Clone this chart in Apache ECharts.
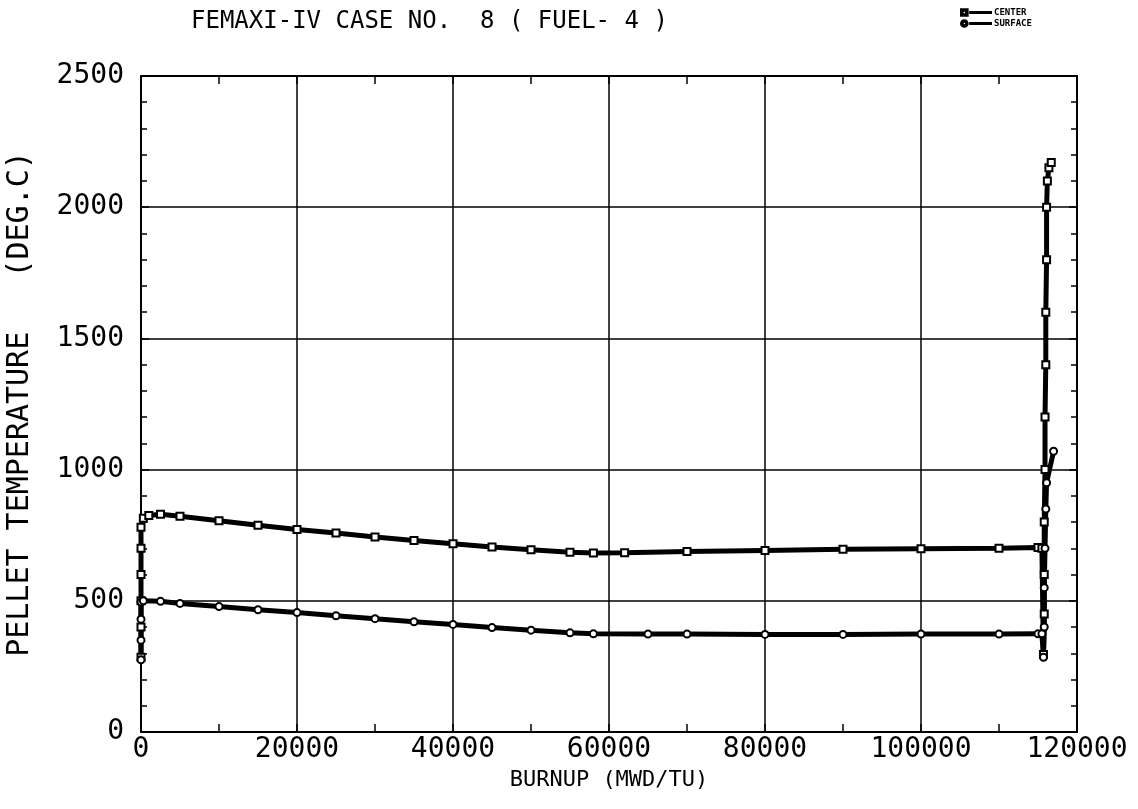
<!DOCTYPE html>
<html>
<head>
<meta charset="utf-8">
<script src="https://cdn.jsdelivr.net/npm/echarts@6/dist/echarts.min.js"></script>
<style>
html,body{margin:0;padding:0;background:#fff;}
#chart{width:1138px;height:809px;}
</style>
</head>
<body>
<div id="chart"></div>
<script>
// Burnup (MWD/TU) vs pellet temperature (DEG.C)
const titleText = 'FEMAXI-IV CASE NO.  8 ( FUEL- 4 )';
const xTicks = [0, 20000, 40000, 60000, 80000, 100000, 120000];
const yTicks = [0, 500, 1000, 1500, 2000, 2500];

const centerBurnup = [0, 0, 0, 0, 0, 0, 300, 1000, 2500, 5000, 10000, 15000, 20000, 25000, 30000, 35000, 40000, 45000, 50000, 55000, 58000, 62000, 70000, 80000, 90000, 100000, 110000, 115000, 115500, 115700, 115800, 115800, 115800, 115900, 115900, 116000, 116000, 116100, 116100, 116200, 116400, 116700];
const centerTemp   = [285, 400, 500, 600, 700, 780, 815, 825, 830, 822, 805, 788, 772, 758, 743, 730, 717, 705, 695, 685, 682, 683, 688, 692, 696, 698, 700, 703, 700, 295, 450, 600, 800, 1000, 1200, 1400, 1600, 1800, 2000, 2100, 2150, 2170];

const surfaceBurnup = [0, 0, 0, 0, 300, 2500, 5000, 10000, 15000, 20000, 25000, 30000, 35000, 40000, 45000, 50000, 55000, 58000, 65000, 70000, 80000, 90000, 100000, 110000, 115000, 115500, 115700, 115800, 115800, 115900, 116000, 116100, 117000];
const surfaceTemp   = [275, 350, 430, 495, 500, 498, 490, 478, 466, 455, 443, 432, 420, 410, 398, 388, 378, 374, 373, 373, 372, 372, 373, 373, 374, 374, 285, 400, 550, 700, 850, 950, 1070];

const centerData = centerBurnup.map((b, i) => [b, centerTemp[i]]);
const surfaceData = surfaceBurnup.map((b, i) => [b, surfaceTemp[i]]);

const FONT = 'DejaVu Sans Mono';
const chart = echarts.init(document.getElementById('chart'), null, {renderer: 'canvas'});

const squareIcon = 'path://M0 0L8 0L8 8L0 8Z M2 2L2 6L6 6L6 2Z M11 3.4L36 3.4L36 4.6L11 4.6Z';
const circleIcon = 'path://M0 4A4 4 0 1 1 8 4A4 4 0 1 1 0 4Z M2 4A2 2 0 1 0 6 4A2 2 0 1 0 2 4Z M11 3.4L36 3.4L36 4.6L11 4.6Z';

const yBase = {
  type: 'value', min: 0, max: 2500, interval: 500,
  axisLine: {show: true, onZero: false, lineStyle: {color: '#000', width: 2}},
  axisTick: {show: true, inside: true, length: 8, lineStyle: {color: '#000', width: 1.5}},
  minorTick: {show: true, splitNumber: 5, length: 6, lineStyle: {color: '#000', width: 1.5}},
  splitLine: {show: true, lineStyle: {color: '#000', width: 1.5}}
};
const xBase = {
  type: 'value', min: 0, max: 120000, interval: 20000,
  axisLine: {show: true, onZero: false, lineStyle: {color: '#000', width: 2}},
  axisTick: {show: true, inside: true, length: 8, lineStyle: {color: '#000', width: 1.5}},
  minorTick: {show: true, splitNumber: 2, length: 8, lineStyle: {color: '#000', width: 1.5}},
  splitLine: {show: true, lineStyle: {color: '#000', width: 1.5}}
};

chart.setOption({
  backgroundColor: '#fff',
  animation: false,
  title: {
    text: titleText, left: 186, top: 5,
    textStyle: {fontFamily: FONT, fontSize: 24, fontWeight: 'normal', color: '#000'}
  },
  legend: {
    orient: 'vertical', left: 955, top: 3, itemGap: 2,
    itemWidth: 30, itemHeight: 7,
    textStyle: {fontFamily: FONT, fontSize: 9, fontWeight: 'bold', color: '#000', padding: [0, 0, 0, -2]},
    data: [{name: 'CENTER', icon: squareIcon}, {name: 'SURFACE', icon: circleIcon}]
  },
  grid: {left: 141, right: 61, top: 76, bottom: 77, containLabel: false, outerBoundsMode: 'none'},
  xAxis: [
    Object.assign({}, xBase, {
      position: 'bottom',
      name: 'BURNUP (MWD/TU)', nameLocation: 'middle', nameGap: 31,
      nameTextStyle: {fontFamily: FONT, fontSize: 22, color: '#000'},
      axisLabel: {fontFamily: FONT, fontSize: 28, color: '#000', margin: 4,
        formatter: v => xTicks.includes(v) ? String(v) : ''}
    }),
    Object.assign({}, xBase, {position: 'top', axisLabel: {show: false}, splitLine: {show: false}})
  ],
  yAxis: [
    Object.assign({}, yBase, {
      position: 'left',
      name: 'PELLET TEMPERATURE   (DEG.C)', nameLocation: 'middle', nameGap: 106, nameRotate: 90,
      nameTextStyle: {fontFamily: FONT, fontSize: 30, color: '#000'},
      axisLabel: {fontFamily: FONT, fontSize: 28, color: '#000', margin: 17,
        formatter: v => yTicks.includes(v) ? String(v) : ''}
    }),
    Object.assign({}, yBase, {position: 'right', axisLabel: {show: false}, splitLine: {show: false}})
  ],
  series: [
    {
      name: 'CENTER', type: 'line', data: centerData,
      xAxisIndex: 0, yAxisIndex: 0,
      symbol: 'emptyRect', symbolSize: 7, showSymbol: true, showAllSymbol: true,
      color: '#000',
      lineStyle: {color: '#000', width: 5},
      itemStyle: {color: '#000', borderColor: '#000', borderWidth: 2}
    },
    {
      name: 'SURFACE', type: 'line', data: surfaceData,
      xAxisIndex: 0, yAxisIndex: 0,
      symbol: 'emptyCircle', symbolSize: 7, showSymbol: true, showAllSymbol: true,
      color: '#000',
      lineStyle: {color: '#000', width: 5},
      itemStyle: {color: '#000', borderColor: '#000', borderWidth: 2}
    }
  ]
});
</script>
</body>
</html>
